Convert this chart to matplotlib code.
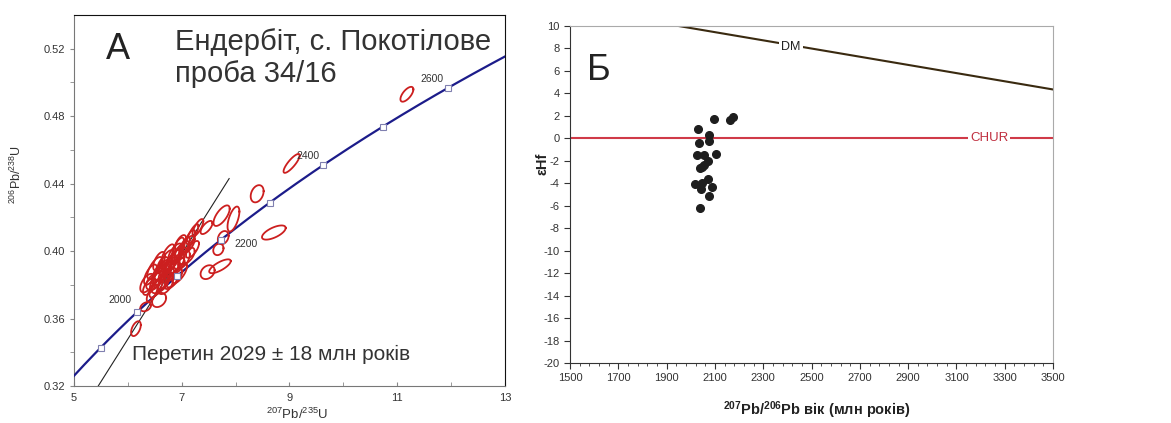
import numpy as np
import matplotlib
matplotlib.use('Agg')
import matplotlib.pyplot as plt

plt.rcParams['font.family'] = ['Liberation Sans', 'DejaVu Sans']
plt.rcParams['mathtext.fontset'] = 'custom'
plt.rcParams['mathtext.rm'] = 'Liberation Sans'
plt.rcParams['mathtext.bf'] = 'Liberation Sans:bold'
plt.rcParams['mathtext.default'] = 'regular'
plt.rcParams['axes.unicode_minus'] = False

# --- Panel A data: U-Pb analyses (207Pb/235U, 206Pb/238U, half-extent x, half-extent y, rho)
ell_x = [11.18, 9.04, 8.40, 8.71, 7.74, 7.96, 7.77, 7.68, 7.46, 7.71, 7.48, 6.15, 6.33, 6.58,
         6.55, 6.62, 6.70, 6.78, 6.85, 6.92, 7.00, 7.05, 7.12, 6.60, 6.68, 6.48, 6.52, 6.75,
         6.82, 6.90, 6.95, 7.20, 7.30, 6.45, 6.72, 6.98, 6.65, 7.10, 7.20, 6.80,
         6.36, 6.42, 6.50, 6.58, 6.64, 6.74, 6.88, 6.96, 7.04, 6.86, 6.56, 6.70, 7.15, 6.40, 6.93]
ell_y = [0.493, 0.452, 0.434, 0.411, 0.421, 0.419, 0.408, 0.401, 0.414, 0.391, 0.3875, 0.354, 0.367, 0.371,
         0.383, 0.386, 0.389, 0.392, 0.395, 0.398, 0.400, 0.403, 0.404, 0.380, 0.383, 0.382, 0.378, 0.386,
         0.388, 0.391, 0.393, 0.410, 0.414, 0.375, 0.395, 0.405, 0.392, 0.397, 0.401, 0.382,
         0.381, 0.386, 0.390, 0.394, 0.389, 0.398, 0.399, 0.387, 0.395, 0.384, 0.387, 0.380, 0.407, 0.379, 0.402]
ell_sx = [0.12, 0.15, 0.12, 0.22, 0.15, 0.11, 0.10, 0.095, 0.11, 0.20, 0.13, 0.09, 0.10, 0.13,
          0.14, 0.15, 0.13, 0.12, 0.15, 0.12, 0.14, 0.10, 0.12, 0.16, 0.12, 0.14, 0.12, 0.14,
          0.13, 0.15, 0.10, 0.11, 0.10, 0.10, 0.12, 0.10, 0.10, 0.14, 0.12, 0.12,
          0.13, 0.12, 0.14, 0.11, 0.15, 0.12, 0.13, 0.14, 0.11, 0.15, 0.12, 0.14, 0.10, 0.12, 0.11]
ell_sy = [0.0044, 0.0056, 0.0051, 0.0042, 0.0061, 0.0074, 0.0039, 0.0034, 0.0039, 0.0041, 0.0041, 0.0044, 0.0027, 0.0042,
          0.0060, 0.0065, 0.0070, 0.0060, 0.0065, 0.0060, 0.0060, 0.0055, 0.0050, 0.0050, 0.0055, 0.0050, 0.0055, 0.0045,
          0.0060, 0.0050, 0.0050, 0.0060, 0.0050, 0.0050, 0.0055, 0.0045, 0.0045, 0.0050, 0.0050, 0.0045,
          0.0055, 0.0060, 0.0065, 0.0055, 0.0060, 0.0060, 0.0055, 0.0060, 0.0050, 0.0055, 0.0065, 0.0055, 0.0055, 0.0050, 0.0060]
ell_rho = [0.66, 0.84, 0.30, 0.65, 0.68, 0.60, 0.28, 0.20, 0.67, 0.75, 0.28, 0.50, 0.34, 0.30,
           0.75, 0.70, 0.80, 0.70, 0.75, 0.80, 0.70, 0.75, 0.60, 0.60, 0.70, 0.50, 0.65, 0.50,
           0.75, 0.60, 0.70, 0.80, 0.75, 0.70, 0.70, 0.60, 0.50, 0.60, 0.70, 0.60,
           0.55, 0.65, 0.70, 0.60, 0.75, 0.70, 0.65, 0.70, 0.60, 0.70, 0.75, 0.55, 0.70, 0.60, 0.70]

# concordia age marks (Ma) and discordia end points
conc_marks = [1900, 2000, 2100, 2200, 2300, 2400, 2500, 2600]
conc_labels = [2000, 2200, 2400, 2600]
disc_x = [5.45, 7.88]
disc_y = [0.320, 0.443]

# decay constants (1/yr)
l235 = 9.8485e-10
l238 = 1.55125e-10

# --- Panel B data: epsilon Hf vs 207Pb/206Pb age
age = [2028, 2096, 2162, 2176, 2034, 2075, 2077, 2027, 2054, 2104, 2072, 2056, 2038, 2048,
       2016, 2045, 2043, 2070, 2086, 2076, 2039]
ehf = [0.8, 1.75, 1.65, 1.9, -0.42, 0.27, -0.25, -1.5, -1.5, -1.4, -2.0, -2.4, -2.6, -2.55,
       -4.1, -4.0, -4.5, -3.65, -4.35, -5.1, -6.2]
dm_age = [1950, 3500]
dm_ehf = [10.0, 4.35]
chur_age = [1500, 3500]
chur_ehf = [0, 0]

fig = plt.figure(figsize=(11.71, 4.23), dpi=100)

# ================= Panel A =================
ax = fig.add_axes([0.0632, 0.0875, 0.368, 0.877])
ax.set_xlim(5, 13)
ax.set_ylim(0.32, 0.54)

# concordia curve
t = np.linspace(1.0e9, 2.75e9, 400)
ax.plot(np.exp(l235 * t) - 1, np.exp(l238 * t) - 1, color='#1c1c8a', lw=1.6, zorder=3)
tm = np.array(conc_marks) * 1e6
ax.plot(np.exp(l235 * tm) - 1, np.exp(l238 * tm) - 1, 's', ms=4, mfc='white',
        mec='#8080b0', mew=0.8, zorder=6)
for a in conc_labels:
    xx = np.exp(l235 * a * 1e6) - 1
    yy = np.exp(l238 * a * 1e6) - 1
    if a == 2200:
        off, ha, va = (10, -3), 'left', 'center'
    elif a == 2000:
        off, ha, va = (-4, 5), 'right', 'bottom'
    else:
        off, ha, va = (-3, 3), 'right', 'bottom'
    ax.annotate(str(a), (xx, yy), xytext=off, textcoords='offset points',
                ha=ha, va=va, fontsize=7.5, color='#333333', zorder=7)

# discordia
ax.plot(disc_x, disc_y, color='#222222', lw=0.8, zorder=2)

# error ellipses
th = np.linspace(0, 2 * np.pi, 100)
for x0, y0, sx, sy, r in zip(ell_x, ell_y, ell_sx, ell_sy, ell_rho):
    cov = np.array([[sx * sx, r * sx * sy], [r * sx * sy, sy * sy]])
    L = np.linalg.cholesky(cov)
    pts = L @ np.vstack([np.cos(th), np.sin(th)])
    ax.plot(x0 + pts[0], y0 + pts[1], color='#cc1f1f', lw=1.3, zorder=5)

ax.set_xticks([5, 7, 9, 11, 13])
ax.set_xticks([6, 8, 10, 12], minor=True)
ax.set_yticks([0.32, 0.36, 0.40, 0.44, 0.48, 0.52])
ax.set_yticks([0.34, 0.38, 0.42, 0.46, 0.50], minor=True)
ax.set_yticklabels(['0.32', '0.36', '0.40', '0.44', '0.48', '0.52'])
ax.tick_params(axis='x', which='both', direction='in', length=3, color='#888888',
               labelsize=8, labelcolor='#333333', pad=5)
ax.tick_params(axis='y', which='both', direction='out', length=3, color='#888888',
               labelsize=8, labelcolor='#333333')
for s in ['left', 'bottom']:
    ax.spines[s].set_color('#777777')
for s in ['top', 'right']:
    ax.spines[s].set_color('#111111')

ax.set_ylabel('$^{206}$Pb/$^{238}$U', fontsize=9, color='#333333')
ax.yaxis.set_label_coords(-0.115, 0.57)
fig.text(297 / 1171, 1 - 422 / 423, '$^{207}$Pb/$^{235}$U', ha='center', va='bottom',
         fontsize=9.5, color='#333333')

ax.text(0.075, 0.955, 'А', transform=ax.transAxes, fontsize=26, color='#222222',
        ha='left', va='top')
ax.text(0.235, 0.905, 'Ендербіт, с. Покотілове', transform=ax.transAxes,
        fontsize=21, color='#333333', ha='left', va='baseline')
ax.text(0.235, 0.820, 'проба 34/16', transform=ax.transAxes,
        fontsize=21, color='#333333', ha='left', va='baseline')
ax.text(0.135, 0.085, 'Перетин 2029 ± 18 млн років', transform=ax.transAxes,
        fontsize=15, color='#333333', ha='left', va='center')

# ================= Panel B =================
bx = fig.add_axes([0.4868, 0.1418, 0.4125, 0.7967])
bx.set_xlim(1500, 3500)
bx.set_ylim(-20, 10)
bx.plot(dm_age, dm_ehf, color='#3a2a10', lw=1.5, zorder=2)
bx.plot(chur_age, chur_ehf, color='#d03a48', lw=1.5, zorder=2)
bx.text(2415, 8.1, 'DM', fontsize=9, color='#222222', ha='center', va='center',
        bbox=dict(fc='white', ec='none', pad=1.5), zorder=3)
bx.text(3235, 0, 'CHUR', fontsize=9.5, color='#c03040', ha='center', va='center',
        bbox=dict(fc='white', ec='none', pad=1.5), zorder=3)
bx.plot(age, ehf, 'o', ms=5.5, color='#1e1e1e', zorder=4)

bx.set_xticks(np.arange(1500, 3501, 200))
bx.set_xticks(np.arange(1500, 3501, 40), minor=True)
bx.set_yticks(np.arange(-20, 11, 2))
bx.tick_params(axis='both', which='major', direction='out', length=4, color='#333333',
               labelsize=8, labelcolor='#333333')
bx.tick_params(axis='x', which='minor', direction='out', length=2.5, color='#333333')
bx.spines['left'].set_color('#333333')
bx.spines['bottom'].set_color('#333333')
bx.spines['top'].set_color('#aaaaaa')
bx.spines['right'].set_color('#aaaaaa')

bx.set_ylabel('εHf', fontsize=10.5, fontweight='bold', color='#222222')
bx.yaxis.set_label_coords(-0.042, 0.59)
fig.text(817 / 1171, 1 - 410 / 423, r'$^{\mathbf{207}}$Pb/$^{\mathbf{206}}$Pb вік (млн років)',
         ha='center', va='center', fontsize=10.5, fontweight='bold', color='#222222')
bx.text(0.035, 0.92, 'Б', transform=bx.transAxes, fontsize=26, color='#222222',
        ha='left', va='top')

fig.savefig('out.png', dpi=100)
